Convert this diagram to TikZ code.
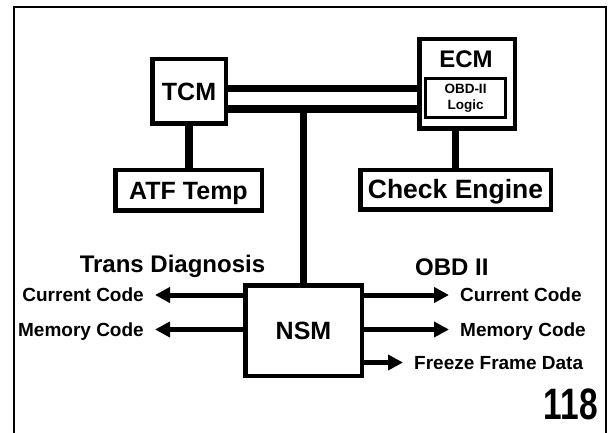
\documentclass[tikz,border=0pt]{standalone}
\usepackage{fontspec}
\setmainfont{Liberation Sans}
\usetikzlibrary{arrows.meta}

\begin{document}
\begin{tikzpicture}[x=1pt,y=-1pt,>={Triangle[length=15pt,width=15pt]},
  box/.style={draw,line width=4.5pt,inner sep=0pt,text height=17.5pt,text depth=0pt,font=\bfseries\fontsize{25}{27}\selectfont},
  logicbox/.style={draw,line width=3pt,inner sep=0pt,align=center,font=\bfseries\fontsize{13.5}{16}\selectfont},
  link/.style={line width=7.5pt},
  arr/.style={->,line width=5pt},
  lbl/.style={inner xsep=11pt,inner ysep=0pt,text height=13.5pt,text depth=0pt,font=\bfseries\fontsize{19}{21}\selectfont},
  head/.style={inner sep=0pt,text height=17.2pt,text depth=0pt,font=\bfseries\fontsize{24}{26}\selectfont}]
\useasboundingbox (0,0) rectangle (611,433);
\draw[line width=2pt] (14,433)--(14,7)--(606,7)--(606,433);
% modules on the bus
\node[box,minimum width=73.5,minimum height=64.5] (tcm) at (189,91.5) {TCM};
\node[box,minimum width=146.5,minimum height=40.5] (atf) at (188.5,190.5) {ATF Temp};
\node[box,minimum width=95.5,minimum height=89.5] (ecm) at (467,84) {};
\node[head] (ecmlbl) at (466,59) {ECM};
\node[logicbox,minimum width=80,minimum height=39] (logic) at (465.5,98) {OBD-II\\Logic};
\node[box,minimum width=190.5,minimum height=39.5,font=\bfseries\fontsize{26.5}{28}\selectfont] (chk) at (455.5,190) {Check Engine};
\node[box,minimum width=116.5,minimum height=90.5] (nsm) at (303.5,330.5) {NSM};
% bus lines
\coordinate (busTop) at (0,88.5);
\coordinate (busBot) at (0,109);
\draw[link] (tcm.east |- busTop) -- (ecm.west |- busTop);
\draw[link] (tcm.east |- busBot) -- (ecm.west |- busBot);
\draw[link] (nsm.north) -- (nsm.north |- busBot);
\draw[link] (tcm.south) -- (tcm.south |- atf.north);
\draw[link] (chk.north) -- (chk.north |- ecm.south);
% diagnosis outputs
\node[head] (transhd) at (172.5,264) {Trans Diagnosis};
\node[head,anchor=west] (obdhd) at (415,267) {OBD II};
\node[lbl,anchor=east] (curL) at (155,295) {Current Code};
\node[lbl,anchor=east] (memL) at (155,329.5) {Memory Code};
\node[lbl,anchor=west] (curR) at (449,295) {Current Code};
\node[lbl,anchor=west] (memR) at (449,329.5) {Memory Code};
\node[lbl,anchor=west] (frzR) at (403,362.5) {Freeze Frame Data};
\draw[arr] (nsm.west |- curL) -- (curL.east);
\draw[arr] (nsm.west |- memL) -- (memL.east);
\draw[arr] (nsm.east |- curR) -- (curR.west);
\draw[arr] (nsm.east |- memR) -- (memR.west);
\draw[arr] (nsm.east |- frzR) -- (frzR.west);
\node[anchor=east,inner sep=0pt,font=\bfseries\fontsize{44}{46}\selectfont] (pageno) at (598,404) {\scalebox{.76}[1]{118}};
\end{tikzpicture}
\end{document}
